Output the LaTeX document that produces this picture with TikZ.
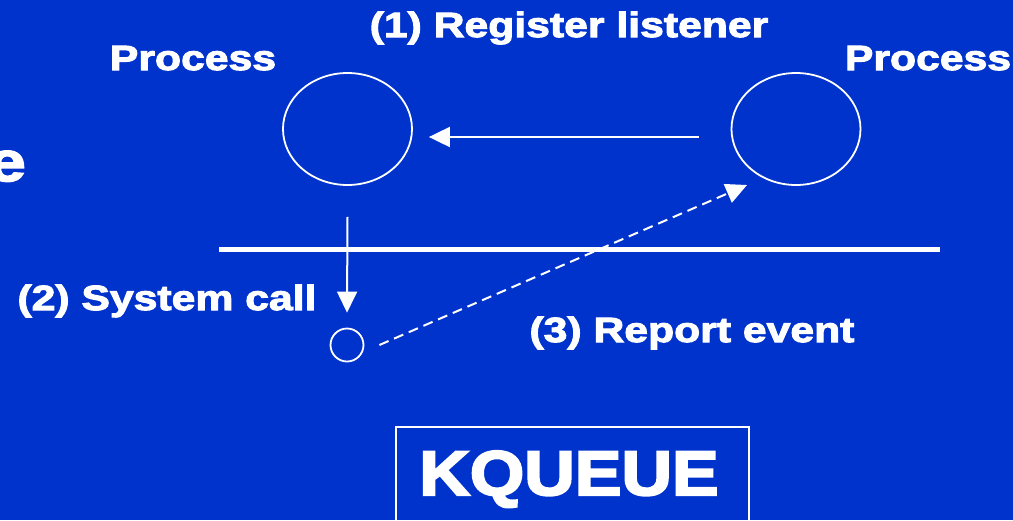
\documentclass[tikz,border=0pt]{standalone}
\usepackage{fontspec}
\usetikzlibrary{arrows.meta,shapes.geometric}
\newfontfamily\lblfont{Liberation Sans Bold}[FakeStretch=1.22,FakeBold=3]
\newfontfamily\titlefont{Liberation Sans Bold}[FakeStretch=1.11,FakeBold=3.5]
\definecolor{slideblue}{RGB}{0,51,204}
\tikzset{
  lbl/.style={text=white,inner sep=0pt,font=\lblfont\fontsize{35}{35}\selectfont},
  proc/.style={draw=white,line width=1.8pt,ellipse,minimum width=129pt,minimum height=112pt,inner sep=0pt},
  port/.style={draw=white,line width=1.8pt,circle,minimum size=33pt,inner sep=0pt},
  flow/.style={draw=white,line width=2pt,-{Triangle[length=21pt,width=20pt]}},
  evflow/.style={flow,dash pattern=on 10pt off 6pt},
}
\begin{document}
\begin{tikzpicture}[x=1pt,y=-1pt]
  \clip (0,0) rectangle (1013,520);
  \fill[slideblue] (0,0) rectangle (1013,520);

  % heading letter running off the left edge
  \node[lbl,anchor=base east,font=\lblfont\fontsize{56}{56}\selectfont] (head) at (26,181) {e};

  % processes
  \node[proc] (L) at (347.5,129) {};
  \node[proc] (R) at (796,129) {};
  \node[lbl,anchor=base] (Ltxt) at (193,70) {Process};
  \node[lbl,anchor=base] (Rtxt) at (928,70) {Process};

  % user/kernel boundary
  \coordinate (bl) at (219,249);
  \coordinate (br) at (940,249);
  \draw[white,line width=5pt] (bl) -- (br);

  % kernel event point
  \node[port] (sc) at (347,345) {};

  % (1) register listener
  \coordinate (r1) at ([shift={(-32,8)}]R.west);
  \coordinate (l1) at ([shift={(16,8)}]L.east);
  \draw[flow] (r1) -- (l1);
  \node[lbl,anchor=base] (t1) at (569,37) {(1) Register listener};

  % (2) system call
  \coordinate (s0) at ([shift={(0,31)}]L.south);
  \coordinate (s1) at ([shift={(0,-15)}]sc.north);
  \draw[flow] (s0) -- (s1);
  \node[lbl,anchor=base] (t2) at (167,310) {(2) System call};

  % (3) report event
  \coordinate (e0) at ([shift={(15,0)}]sc.east);
  \coordinate (e1) at ([shift={(-49,56)}]R.center);
  \draw[evflow] (e0) -- (e1);
  \node[lbl,anchor=base] (t3) at (692,342) {(3) Report event};

  % title box
  \node[draw=white,line width=1.8pt,minimum width=353pt,minimum height=120pt,anchor=north west,inner sep=0pt] (box) at (395,426) {};
  \node[text=white,inner sep=0pt,anchor=base,font=\titlefont\fontsize{63}{63}\selectfont] (title) at (569,495) {KQUEUE};
\end{tikzpicture}
\end{document}
